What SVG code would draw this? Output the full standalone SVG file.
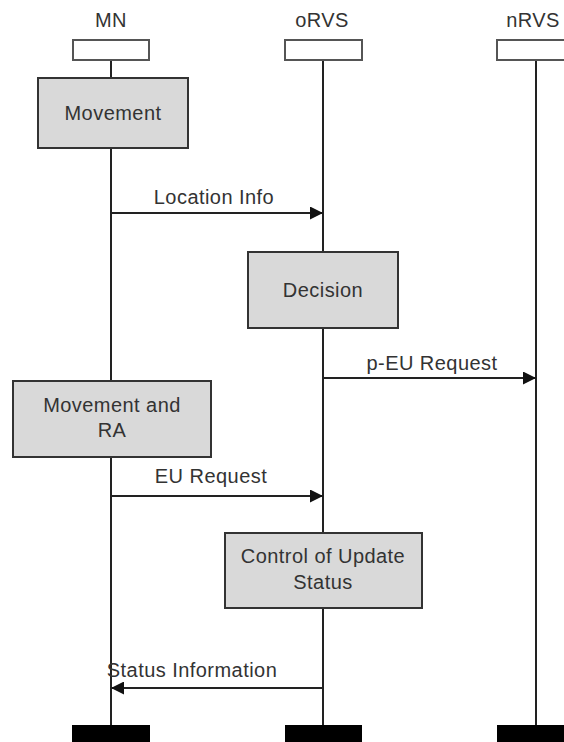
<svg xmlns="http://www.w3.org/2000/svg" width="564" height="742" viewBox="0 0 564 742">
<defs>
<style>
text{font-family:"Liberation Sans",Arial,sans-serif;font-size:20px;letter-spacing:0.45px;fill:#333;text-anchor:middle}
.head{fill:#fff;stroke:#555;stroke-width:2}
.act{fill:#d9d9d9;stroke:#333;stroke-width:2}
.life{stroke:#222;stroke-width:2;fill:none}
.msg{stroke:#222;stroke-width:2;fill:none}
.end{fill:#000}
</style>
<marker id="ah" viewBox="0 0 10 10" refX="10" refY="5" markerWidth="7" markerHeight="6.5" orient="auto" markerUnits="strokeWidth">
<path d="M0,0 L10,5 L0,10 z" fill="#111"/>
</marker>
</defs>
<g id="lifelines">
<line class="life" x1="111" y1="60" x2="111" y2="725"/>
<line class="life" x1="323" y1="60" x2="323" y2="725"/>
<line class="life" x1="536" y1="60" x2="536" y2="725"/>
</g>
<g id="MN">
<text x="111" y="27">MN</text>
<rect class="head" x="73" y="40" width="76" height="20"/>
<rect class="end" x="72" y="725" width="78" height="17"/>
</g>
<g id="oRVS">
<text x="322" y="27">oRVS</text>
<rect class="head" x="285" y="40" width="77" height="20"/>
<rect class="end" x="285" y="725" width="77" height="17"/>
</g>
<g id="nRVS">
<text x="533" y="27">nRVS</text>
<rect class="head" x="497" y="40" width="76" height="20"/>
<rect class="end" x="497" y="725" width="77" height="17"/>
</g>
<g id="movement">
<rect class="act" x="38" y="78" width="150" height="70"/>
<text x="113" y="120">Movement</text>
</g>
<g id="decision">
<rect class="act" x="248" y="252" width="150" height="76"/>
<text x="323" y="297">Decision</text>
</g>
<g id="movementRA">
<rect class="act" x="13" y="381" width="198" height="76"/>
<text x="112" y="412">Movement and</text>
<text x="112" y="437">RA</text>
</g>
<g id="control">
<rect class="act" x="225" y="533" width="197" height="75"/>
<text x="323" y="563">Control of Update</text>
<text x="323" y="589">Status</text>
</g>
<g id="connectors">
<line class="msg" x1="111" y1="213" x2="323" y2="213" marker-end="url(#ah)"/>
<text x="214" y="204">Location Info</text>
<line class="msg" x1="323" y1="378" x2="536" y2="378" marker-end="url(#ah)"/>
<text x="432" y="370">p-EU Request</text>
<line class="msg" x1="111" y1="496" x2="323" y2="496" marker-end="url(#ah)"/>
<text x="211" y="483">EU Request</text>
<line class="msg" x1="323" y1="688" x2="111" y2="688" marker-end="url(#ah)"/>
<text x="192" y="677">Status Information</text>
</g>
</svg>
